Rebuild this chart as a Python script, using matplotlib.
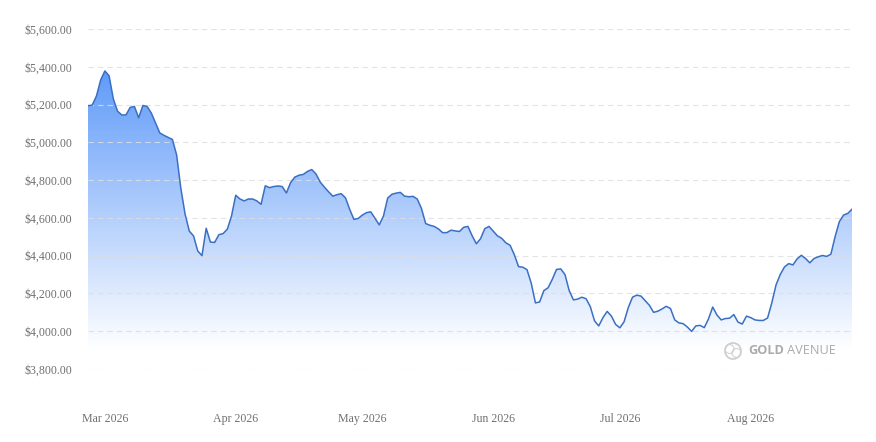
import numpy as np
import pandas as pd
import matplotlib
matplotlib.use('Agg')
import matplotlib.pyplot as plt
import matplotlib.dates as mdates
from matplotlib.ticker import FuncFormatter
from matplotlib.patches import Circle

# prix journaliers (USD / oz)
dates = pd.date_range('2026-02-25', '2026-08-25', freq='D')
prices = [
    5194, 5197, 5245, 5330, 5378, 5352, 5230, 5165, 5145, 5145,
    5185, 5190, 5130, 5195, 5190, 5155, 5102, 5050, 5037, 5026,
    5015, 4933, 4755, 4620, 4530, 4505, 4425, 4400, 4545, 4472,
    4470, 4511, 4517, 4540, 4610, 4720, 4700, 4690, 4700, 4700,
    4690, 4672, 4770, 4760, 4766, 4769, 4766, 4732, 4787, 4816,
    4826, 4830, 4846, 4856, 4833, 4790, 4763, 4738, 4715, 4723,
    4728, 4706, 4645, 4592, 4597, 4615, 4628, 4632, 4598, 4563,
    4610, 4705, 4725, 4731, 4735, 4715, 4712, 4714, 4700, 4650,
    4570, 4561, 4555, 4542, 4522, 4522, 4535, 4531, 4528, 4550,
    4555, 4506, 4463, 4490, 4543, 4555, 4530, 4505, 4492, 4468,
    4455, 4405, 4342, 4339, 4326, 4255, 4150, 4155, 4215, 4230,
    4275, 4327, 4330, 4300, 4215, 4166, 4170, 4180, 4172, 4130,
    4055, 4028, 4072, 4105, 4080, 4036, 4018, 4050, 4125, 4180,
    4191, 4186, 4162, 4137, 4100, 4106, 4118, 4132, 4120, 4060,
    4044, 4040, 4022, 3999, 4028, 4031, 4019, 4065, 4128, 4086,
    4060, 4067, 4069, 4088, 4048, 4038, 4080, 4072, 4060, 4057,
    4057, 4070, 4150, 4245, 4300, 4340, 4358, 4351, 4383, 4402,
    4385, 4362, 4385, 4394, 4401, 4396, 4408, 4501, 4580, 4615,
    4624, 4646,
]
y_ticks = [3800, 4000, 4200, 4400, 4600, 4800, 5000, 5200, 5400, 5600]
month_ticks = ['2026-03-01', '2026-04-01', '2026-05-01', '2026-06-01', '2026-07-01', '2026-08-01']

W, H = 876, 442
fig = plt.figure(figsize=(W / 100, H / 100), dpi=100)
ax = fig.add_axes([88 / W, 1 - 369 / H, (852 - 88) / W, (369 - 29) / H])

x = mdates.date2num(dates)
ymin, ymax = y_ticks[0], y_ticks[-1]

# degrade bleu sous la courbe (blanc vers 3900)
t = np.linspace(0, 1, 256)[:, None]
top = np.array([72, 140, 248]) / 255
bot = np.array([255, 255, 255]) / 255
img = np.zeros((256, 1, 4))
img[:, :, :3] = top * (1 - t[..., None]) + bot * t[..., None]
img[:, :, 3] = 1
im = ax.imshow(img, extent=[x[0], x[-1], 3900, ymax], aspect='auto', origin='upper', zorder=1)
poly = ax.fill_between(x, prices, ymin, color='none', lw=0)
im.set_clip_path(poly.get_paths()[0], transform=ax.transData)

ax.plot(x, prices, color='#3a6fc4', lw=1.1, zorder=3, solid_joinstyle='round')

ax.set_xlim(x[0], x[-1])
ax.set_ylim(ymin, ymax)
ax.set_yticks(y_ticks)
ax.yaxis.set_major_formatter(FuncFormatter(lambda v, p: '${:,.2f}'.format(v)))
ax.set_xticks(mdates.date2num(pd.to_datetime(month_ticks)))
ax.xaxis.set_major_formatter(mdates.DateFormatter('%b %Y'))

ax.grid(axis='y', color='#dedede', lw=0.8, dashes=(5, 3.5), alpha=0.85, zorder=2)
ax.set_axisbelow(False)
for s in ax.spines.values():
    s.set_visible(False)
ax.tick_params(axis='both', length=0, labelcolor='#707070', labelsize=8.6)
ax.tick_params(axis='x', pad=32)
ax.tick_params(axis='y', pad=11.5)
for lab in ax.get_xticklabels() + ax.get_yticklabels():
    lab.set_family('Liberation Serif')

# filigrane
fig.patches.append(Circle((733, H - 351), 8, transform=None, fill=False, ec='#cccccc', lw=1.2))
fig.patches.append(Circle((729.5, H - 349), 4.5, transform=None, fill=False, ec='#d2d2d2', lw=0.8))
fig.patches.append(Circle((736.5, H - 353), 4.5, transform=None, fill=False, ec='#d2d2d2', lw=0.8))
fig.text(748 / W, 1 - 351 / H, 'GOLD', color='#ababab', fontsize=9.2, fontweight='bold',
         family='Open Sans', va='center', ha='left')
fig.text(787 / W, 1 - 351 / H, 'AVENUE', color='#ababab', fontsize=9.2,
         family='Open Sans', va='center', ha='left')

fig.savefig('out.png', dpi=100)
